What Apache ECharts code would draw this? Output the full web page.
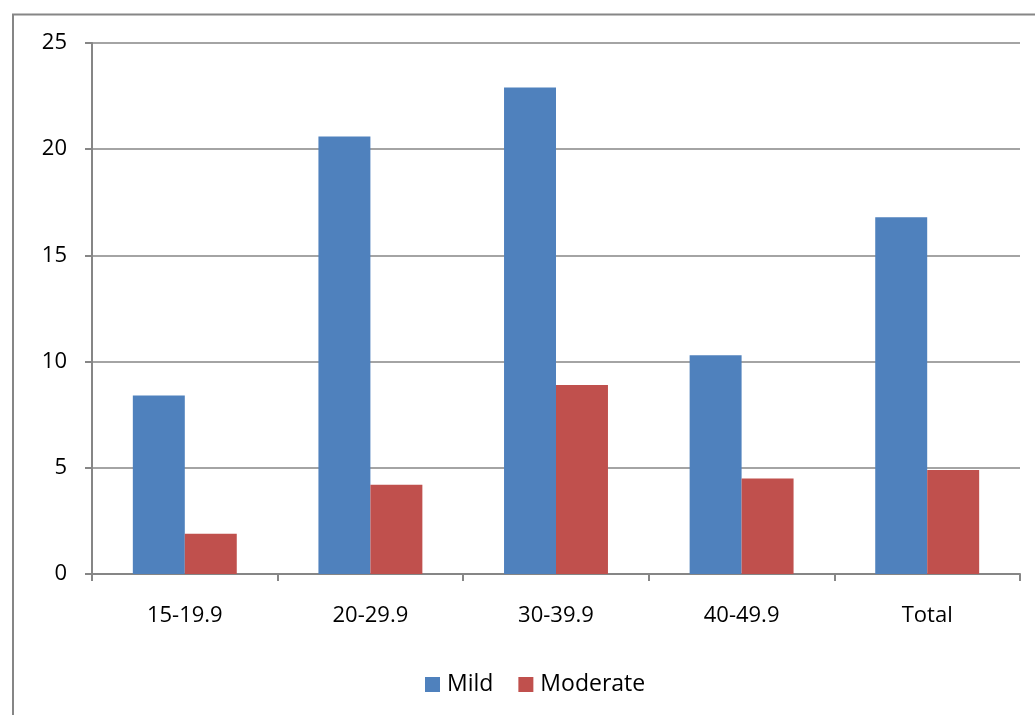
<!DOCTYPE html>
<html>
<head>
<meta charset="utf-8">
<script src="https://cdn.jsdelivr.net/npm/echarts@6/dist/echarts.min.js"></script>
<style>
  html, body { margin: 0; padding: 0; background: #fff; }
  #chart { width: 1035px; height: 715px; }
</style>
</head>
<body>
<div id="chart"></div>
<script>
// Age groups and prevalence values for each severity
const categories = ['15-19.9', '20-29.9', '30-39.9', '40-49.9', 'Total'];
const mildValues = [8.4, 20.6, 22.9, 10.3, 16.8];
const moderateValues = [1.9, 4.2, 8.9, 4.5, 4.9];
const seriesNames = ['Mild', 'Moderate'];

const axisGray = '#868686';
const fontFamily = "'Open Sans', 'Liberation Sans', sans-serif";

const chart = echarts.init(document.getElementById('chart'), null, { renderer: 'canvas' });

chart.setOption({
  animation: false,
  backgroundColor: '#fff',
  textStyle: { fontFamily: fontFamily },
  graphic: [{
    type: 'rect',
    shape: { x: 13, y: 14.5, width: 1040, height: 720 },
    style: { fill: 'none', stroke: axisGray, lineWidth: 2 },
    silent: true
  }],
  grid: { left: 92, right: 15, top: 43, bottom: 141, containLabel: false },
  legend: {
    top: 673,
    left: 425,
    padding: 0,
    itemWidth: 15,
    itemHeight: 15,
    itemGap: 25,
    icon: 'rect',
    textStyle: { fontSize: 23, color: '#000', fontFamily: fontFamily, padding: [0, 0, 0, 2] },
    data: seriesNames
  },
  xAxis: {
    type: 'category',
    data: categories,
    axisLine: { lineStyle: { color: axisGray, width: 2 } },
    axisTick: { show: true, length: 7, lineStyle: { color: axisGray, width: 2 } },
    axisLabel: { color: '#000', fontSize: 22, margin: 31, fontFamily: fontFamily }
  },
  yAxis: {
    type: 'value',
    min: 0,
    max: 25,
    interval: 5,
    axisLine: { show: true, lineStyle: { color: axisGray, width: 2 } },
    axisTick: { show: true, length: 7, lineStyle: { color: axisGray, width: 2 } },
    axisLabel: { color: '#000', fontSize: 22, margin: 25, fontFamily: fontFamily },
    splitLine: { show: true, lineStyle: { color: axisGray, width: 1.5 } }
  },
  series: [
    {
      name: seriesNames[0],
      type: 'bar',
      data: mildValues,
      barGap: '0%',
      barCategoryGap: '44%',
      itemStyle: { color: '#4F81BD' }
    },
    {
      name: seriesNames[1],
      type: 'bar',
      data: moderateValues,
      barGap: '0%',
      barCategoryGap: '44%',
      itemStyle: { color: '#C0504D' }
    }
  ]
});
</script>
</body>
</html>
